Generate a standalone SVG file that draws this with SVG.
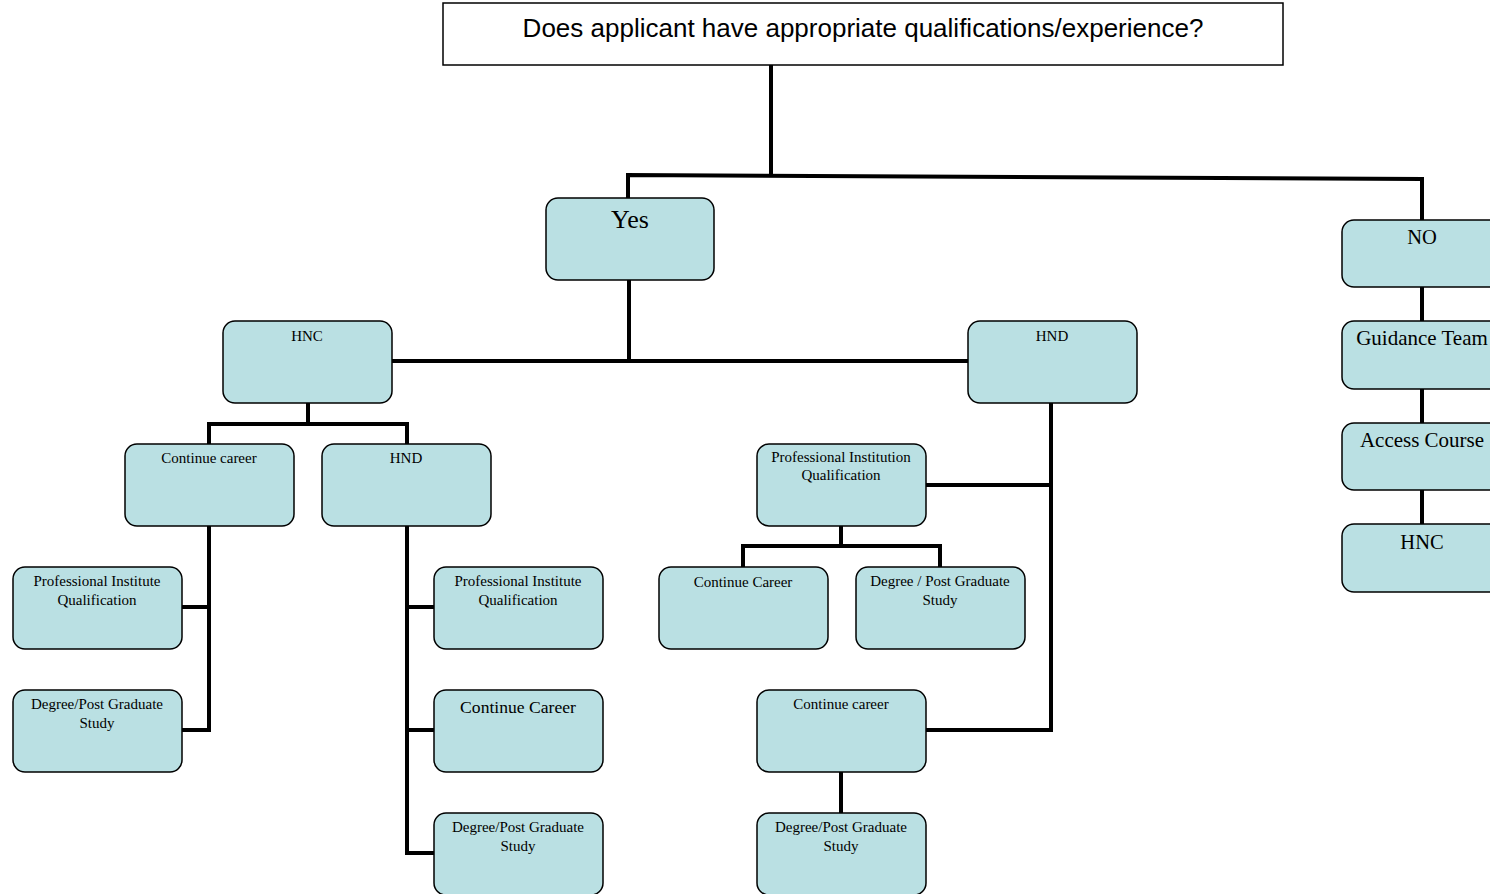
<svg xmlns="http://www.w3.org/2000/svg" width="1490" height="894" viewBox="0 0 1490 894">
<style>
.n{fill:#bae0e3;stroke:#000;stroke-width:1.5}
.t{font-family:"Liberation Serif","Times New Roman",serif;font-size:15px;fill:#000;text-anchor:middle}
.b{font-size:20.5px}
.c{fill:none;stroke:#000;stroke-width:4;stroke-linejoin:miter}
</style>
<rect width="1490" height="894" fill="#fff"/>
<g id="connectors" class="c">
<path d="M771,65V176"/>
<path d="M628,198V175L1422,179V220"/>
<path d="M629,280V361M392,361H968"/>
<path d="M308,403V424M209,444V424H407V444"/>
<path d="M209,526V730H182M182,607H209"/>
<path d="M407,526V853H434M407,607H434M407,730H434"/>
<path d="M1051,403V730H926M926,485H1051"/>
<path d="M841,526V546M743,567V546H940V567"/>
<path d="M841,772V813"/>
<path d="M1422,287V321M1422,389V423M1422,490V524"/>
</g>
<g id="question">
<rect x="443" y="3" width="840" height="62" fill="#fff" stroke="#000" stroke-width="1.5"/>
<text x="863" y="37" style="font-family:'Liberation Sans',Arial,sans-serif;font-size:26px;text-anchor:middle">Does applicant have appropriate qualifications/experience?</text>
</g>
<g id="yes">
<rect class="n" x="546" y="198" width="168" height="82" rx="12"/>
<text class="t" x="630" y="228" style="font-size:26px">Yes</text>
</g>
<g id="hnc">
<rect class="n" x="223" y="321" width="169" height="82" rx="12"/>
<text class="t" x="307" y="341">HNC</text>
</g>
<g id="hnd-right">
<rect class="n" x="968" y="321" width="169" height="82" rx="12"/>
<text class="t" x="1052" y="341">HND</text>
</g>
<g id="continue-career-left">
<rect class="n" x="125" y="444" width="169" height="82" rx="12"/>
<text class="t" x="209" y="463">Continue career</text>
</g>
<g id="hnd-left">
<rect class="n" x="322" y="444" width="169" height="82" rx="12"/>
<text class="t" x="406" y="463">HND</text>
</g>
<g id="prof-inst-left">
<rect class="n" x="13" y="567" width="169" height="82" rx="12"/>
<text class="t" x="97" y="586">Professional Institute</text>
<text class="t" x="97" y="605">Qualification</text>
</g>
<g id="degree-left">
<rect class="n" x="13" y="690" width="169" height="82" rx="12"/>
<text class="t" x="97" y="709">Degree/Post Graduate</text>
<text class="t" x="97" y="728">Study</text>
</g>
<g id="prof-inst-mid">
<rect class="n" x="434" y="567" width="169" height="82" rx="12"/>
<text class="t" x="518" y="586">Professional Institute</text>
<text class="t" x="518" y="605">Qualification</text>
</g>
<g id="continue-career-mid">
<rect class="n" x="434" y="690" width="169" height="82" rx="12"/>
<text class="t" x="518" y="713" style="font-size:17.6px">Continue Career</text>
</g>
<g id="degree-mid">
<rect class="n" x="434" y="813" width="169" height="82" rx="12"/>
<text class="t" x="518" y="832">Degree/Post Graduate</text>
<text class="t" x="518" y="851">Study</text>
</g>
<g id="prof-institution">
<rect class="n" x="757" y="444" width="169" height="82" rx="12"/>
<text class="t" x="841" y="462">Professional Institution</text>
<text class="t" x="841" y="480">Qualification</text>
</g>
<g id="continue-career-pi">
<rect class="n" x="659" y="567" width="169" height="82" rx="12"/>
<text class="t" x="743" y="587">Continue Career</text>
</g>
<g id="degree-pi">
<rect class="n" x="856" y="567" width="169" height="82" rx="12"/>
<text class="t" x="940" y="586">Degree / Post Graduate</text>
<text class="t" x="940" y="605">Study</text>
</g>
<g id="continue-career-right">
<rect class="n" x="757" y="690" width="169" height="82" rx="12"/>
<text class="t" x="841" y="709">Continue career</text>
</g>
<g id="degree-right">
<rect class="n" x="757" y="813" width="169" height="82" rx="12"/>
<text class="t" x="841" y="832">Degree/Post Graduate</text>
<text class="t" x="841" y="851">Study</text>
</g>
<g id="no">
<rect class="n" x="1342" y="220" width="160" height="67" rx="12"/>
<text class="t b" x="1422" y="244">NO</text>
</g>
<g id="guidance-team">
<rect class="n" x="1342" y="321" width="160" height="68" rx="12"/>
<text class="t b" x="1422" y="345" style="font-size:21px">Guidance Team</text>
</g>
<g id="access-course">
<rect class="n" x="1342" y="423" width="160" height="67" rx="12"/>
<text class="t b" x="1422" y="447" style="font-size:21px">Access Course</text>
</g>
<g id="hnc-no">
<rect class="n" x="1342" y="524" width="160" height="68" rx="12"/>
<text class="t b" x="1422" y="549">HNC</text>
</g>
</svg>
